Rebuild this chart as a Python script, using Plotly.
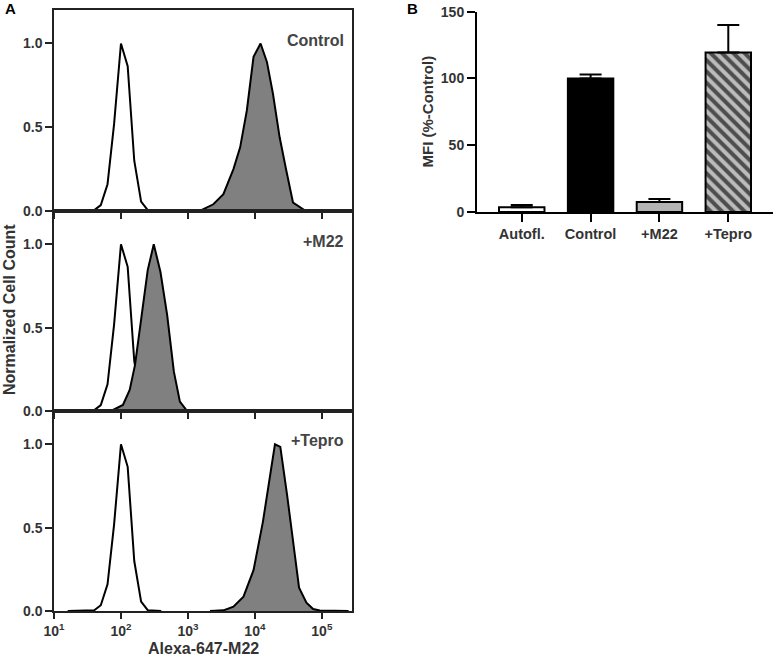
import plotly.graph_objects as go

# Panel A: flow histograms (intensity, normalized count)
autofl_x = [16, 40, 50, 63, 79, 100, 126, 158, 200, 251, 400]
autofl_y = [0, 0.005, 0.035, 0.16, 0.52, 1.0, 0.865, 0.30, 0.056, 0.005, 0]

control_x = [794, 1585, 2399, 3388, 4786, 6026, 7586, 9550, 12160, 15136, 18621,
             23442, 29512, 37154, 56234, 251189]
control_y = [0, 0.005, 0.04, 0.10, 0.25, 0.38, 0.60, 0.92, 1.0, 0.89, 0.70,
             0.44, 0.24, 0.05, 0.003, 0]

m22_x = [71, 107, 135, 162, 204, 251, 309, 389, 490, 617, 759, 955, 1500]
m22_y = [0, 0.036, 0.126, 0.275, 0.575, 0.845, 1.0, 0.834, 0.575, 0.236, 0.056, 0.004, 0]

tepro_x = [2138, 3388, 4786, 6761, 9550, 13183, 19953, 23988, 30200, 37154, 45709,
           58884, 74131, 93325, 251189]
tepro_y = [0, 0.004, 0.026, 0.086, 0.245, 0.535, 1.0, 0.985, 0.70, 0.42, 0.14,
           0.05, 0.012, 0.003, 0]

panel_labels = ["Control", "+M22", "+Tepro"]
x_tickvals = [10, 100, 1000, 10000, 100000]
x_ticktext = ["10<sup>1</sup>", "10<sup>2</sup>", "10<sup>3</sup>", "10<sup>4</sup>", "10<sup>5</sup>"]

# Panel B: MFI bars
bar_cats = ["Autofl.", "Control", "+M22", "+Tepro"]
bar_vals = [3.5, 100, 7.5, 119.5]
bar_errs = [1.8, 3, 2.3, 20.5]
bar_colors = ["white", "black", "#b4b4b4", "#bcbcbc"]

FONT = "Liberation Sans, Arial, sans-serif"
TXT = "#333333"
LINE = "#222222"

fig = go.Figure()

filled = [(control_x, control_y), (m22_x, m22_y), (tepro_x, tepro_y)]
for i, (fx, fy) in enumerate(filled):
    n = "" if i == 0 else str(i + 1)
    fig.add_trace(go.Scatter(
        x=autofl_x, y=autofl_y, mode="lines",
        line=dict(color="black", width=2),
        xaxis="x" + n, yaxis="y" + n, showlegend=False, hoverinfo="skip"
    ))
    fig.add_trace(go.Scatter(
        x=fx, y=fy, mode="lines", fill="tozeroy", fillcolor="#808080",
        line=dict(color="black", width=2),
        xaxis="x" + n, yaxis="y" + n, showlegend=False
    ))

# plain bars, then the hatched +Tepro bar as its own trace (overlay mode)
fig.add_trace(go.Bar(
    x=bar_cats[:3], y=bar_vals[:3], width=0.66,
    marker=dict(color=bar_colors[:3], line=dict(color="black", width=2)),
    error_y=dict(type="data", symmetric=False, array=bar_errs[:3], arrayminus=[0, 0, 0],
                 color="black", thickness=2, width=11),
    xaxis="x4", yaxis="y4", showlegend=False
))
fig.add_trace(go.Bar(
    x=bar_cats[3:], y=bar_vals[3:], width=0.66,
    marker=dict(
        color=bar_colors[3], line=dict(color="black", width=2),
        pattern=dict(shape="\\", fillmode="replace", bgcolor=bar_colors[3],
                     fgcolor="#4d4d4d", fgopacity=1, size=8, solidity=0.5)
    ),
    error_y=dict(type="data", symmetric=False, array=bar_errs[3:], arrayminus=[0],
                 color="black", thickness=2, width=11),
    xaxis="x4", yaxis="y4", showlegend=False
))

tick_font = dict(family=FONT, size=14, color=TXT, weight="bold")

# domains for the three stacked histogram panels
y_domains = [[0.6813, 0.9849], [0.3792, 0.6813], [0.0770, 0.3792]]
layout = dict(
    template="none",
    width=777, height=662,
    margin=dict(l=0, r=0, t=0, b=0, autoexpand=False),
    paper_bgcolor="white", plot_bgcolor="white",
    font=dict(family=FONT, color=TXT),
    showlegend=False, barmode="overlay",
)
for i in range(3):
    n = "" if i == 0 else str(i + 1)
    layout["xaxis" + n] = dict(
        type="log", range=[1, 5.455], domain=[0.0695, 0.4534],
        anchor="y" + n, showgrid=False, zeroline=False, automargin=False,
        showline=True, mirror=True, linecolor=LINE, linewidth=1.5,
        ticks="outside", ticklen=6, tickwidth=1.5, tickcolor=LINE,
        tickvals=x_tickvals, ticktext=x_ticktext,
        showticklabels=(i == 2), tickfont=tick_font,
    )
    layout["yaxis" + n] = dict(
        range=[0, 1.2], domain=y_domains[i], anchor="x" + n,
        showgrid=False, zeroline=False, automargin=False,
        showline=True, mirror=True, linecolor=LINE, linewidth=1.5,
        ticks="outside", ticklen=7, tickwidth=1.5, tickcolor=LINE,
        tickvals=[0, 0.5, 1.0], ticktext=["0.0", "0.5", "1.0"],
        tickfont=tick_font,
    )

layout["xaxis4"] = dict(
    type="category", categoryorder="array", categoryarray=bar_cats,
    range=[-0.65, 3.65], domain=[0.6139, 0.9949], anchor="y4",
    showgrid=False, zeroline=False, automargin=False,
    showline=True, linecolor="black", linewidth=2,
    ticks="outside", ticklen=8, tickwidth=2, tickcolor="black",
    tickfont=dict(family=FONT, size=14.5, color=TXT, weight="bold"),
)
layout["yaxis4"] = dict(
    range=[0, 150], domain=[0.6798, 0.9823], anchor="x4",
    showgrid=False, zeroline=False, automargin=False,
    showline=True, linecolor="black", linewidth=2,
    ticks="outside", ticklen=8, tickwidth=2, tickcolor="black",
    tickvals=[0, 50, 100, 150], tickfont=tick_font,
)

fig.update_layout(**layout)

ann_font = dict(family=FONT, size=16, color="#444444", weight="bold")
label_y = [1 - 40 / 662, 1 - 241 / 662, 1 - 440 / 662]
for txt, yy in zip(panel_labels, label_y):
    fig.add_annotation(text=txt, x=0.4453, y=yy, xref="paper", yref="paper",
                       xanchor="right", yanchor="middle", showarrow=False, font=ann_font)

title_font = dict(family=FONT, size=16, color=TXT, weight="bold")
fig.add_annotation(text="Normalized Cell Count", x=9 / 777, y=1 - 310 / 662,
                   xref="paper", yref="paper", textangle=-90, showarrow=False,
                   xanchor="center", yanchor="middle", font=title_font)
fig.add_annotation(text="Alexa-647-M22", x=204 / 777, y=1 - 648 / 662,
                   xref="paper", yref="paper", showarrow=False,
                   xanchor="center", yanchor="middle", font=title_font)
fig.add_annotation(text="MFI (%-Control)", x=426.5 / 777, y=1 - 112 / 662,
                   xref="paper", yref="paper", textangle=-90, showarrow=False,
                   xanchor="center", yanchor="middle",
                   font=dict(family=FONT, size=15, color=TXT, weight="bold"))

# panel letters
fig.add_annotation(text="A", x=3 / 777, y=1 - 8 / 662, xref="paper", yref="paper",
                   xanchor="left", yanchor="middle", showarrow=False,
                   font=dict(family=FONT, size=15, color="black", weight="bold"))
fig.add_annotation(text="B", x=405 / 777, y=1 - 8 / 662, xref="paper", yref="paper",
                   xanchor="left", yanchor="middle", showarrow=False,
                   font=dict(family=FONT, size=15, color="black", weight="bold"))

# drop the default page margin so the 777x662 figure fills the window
fig.write_html("out.html", config={"displayModeBar": False},
               post_script="document.body.style.margin='0';")
